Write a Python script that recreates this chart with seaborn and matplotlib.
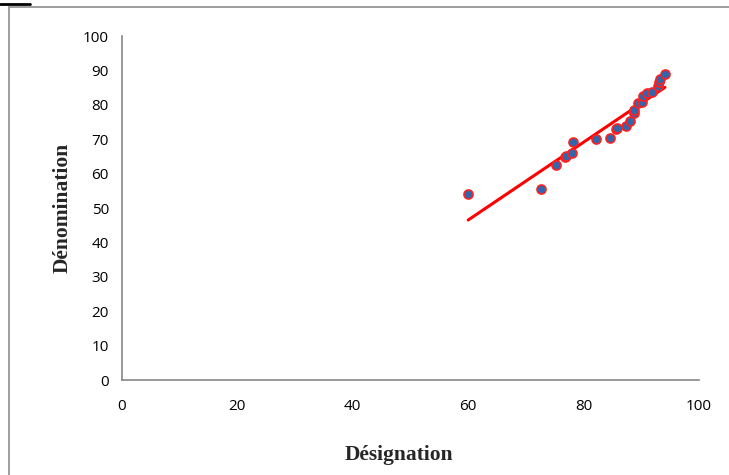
import matplotlib
matplotlib.use("Agg")
import matplotlib.pyplot as plt
import seaborn as sns
import pandas as pd
from matplotlib.patches import Rectangle

designation = [60.0, 72.7, 75.3, 76.7, 76.9, 78.0, 78.2, 82.1, 84.6, 85.6, 85.8,
               87.3, 88.0, 88.7, 88.8, 89.4, 90.1, 90.3, 91.0, 91.8, 92.9, 93.0,
               93.3, 94.1]
denomination = [54.1, 55.5, 62.4, 64.9, 65.1, 65.9, 69.3, 70.2, 70.3, 73.0, 73.4,
                73.7, 75.4, 77.5, 78.5, 80.6, 80.7, 82.6, 83.3, 83.8, 85.4, 86.7,
                87.5, 88.9]
x_ticks = [0, 20, 40, 60, 80, 100]
y_ticks = [0, 10, 20, 30, 40, 50, 60, 70, 80, 90, 100]

df = pd.DataFrame({"Désignation": designation, "Dénomination": denomination})

sns.set_style("white")
plt.rcParams["font.family"] = ["Open Sans", "DejaVu Sans"]

fig = plt.figure(figsize=(7.29, 4.75), dpi=100)
ax = fig.add_axes([0.1674, 0.2, 0.7914, 0.7242])

sns.regplot(data=df, x="Désignation", y="Dénomination", ax=ax, ci=None,
            scatter_kws=dict(s=42, color="#2E67AE", edgecolor="#FF2020",
                             linewidths=1.2, alpha=1, zorder=3),
            line_kws=dict(color="#FF0000", lw=2.2, zorder=2))

ax.set_xlim(0, 100)
ax.set_ylim(0, 100)
ax.set_xticks(x_ticks)
ax.set_yticks(y_ticks)
ax.set_xticklabels([str(v) for v in x_ticks])
ax.set_yticklabels([str(v) for v in y_ticks])
for s in ["top", "right"]:
    ax.spines[s].set_visible(False)
for s in ["left", "bottom"]:
    ax.spines[s].set_color("#888888")
    ax.spines[s].set_linewidth(1.2)
ax.tick_params(axis="both", direction="inout", length=9, width=1.0,
               color="#888888", labelsize=11, pad=5, labelcolor="#000000")
ax.tick_params(axis="x", pad=9)

ax.set_xlabel("Désignation", family="Liberation Serif", fontweight="bold",
              fontsize=15.5)
ax.set_ylabel("Dénomination", family="Liberation Serif", fontweight="bold",
              fontsize=15.5)
ax.xaxis.set_label_coords(0.48, -0.19)
ax.yaxis.set_label_coords(-0.086, 0.5)

# outer chart border
fig.patches.append(Rectangle((9 / 729, -0.01), 1.0, 1 - 7 / 475 + 0.01,
                             transform=fig.transFigure, fill=False,
                             edgecolor="#8C8C8C", lw=1.2))
# fragment of the document rule above the chart
fig.lines.append(plt.Line2D([0, 30 / 729], [1 - 4 / 475, 1 - 4 / 475],
                            transform=fig.transFigure, color="black", lw=2))

fig.savefig("out.png", dpi=100)
